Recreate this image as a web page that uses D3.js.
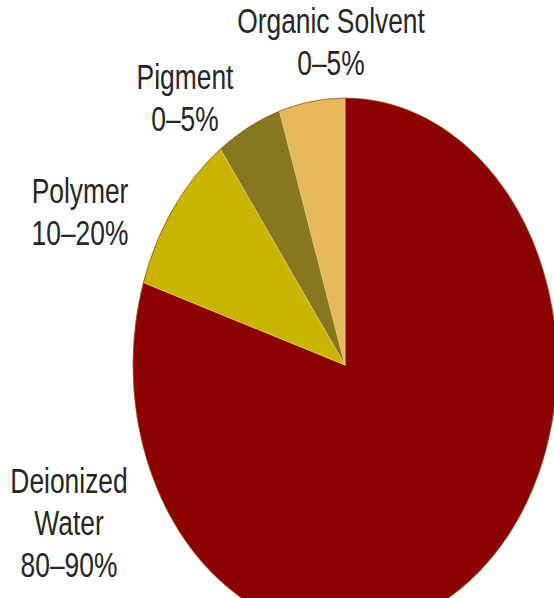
<!DOCTYPE html>
<html>
<head>
<meta charset="utf-8">
<script src="https://cdn.jsdelivr.net/npm/d3@7/dist/d3.min.js"></script>
<style>
  html, body { margin: 0; padding: 0; background: #ffffff; }
  svg { display: block; }
  .lbl { font-family: "Liberation Sans", Arial, sans-serif; fill: #262626; }
</style>
</head>
<body>
<svg id="chart" width="554" height="598"></svg>
<script>
// Composition of a water-based ink (share of total, %)
const categories = ["Deionized Water", "Polymer", "Pigment", "Organic Solvent"];
const values = [80, 10, 5, 5];
const rangeLabels = ["80–90%", "10–20%", "0–5%", "0–5%"];
// label lines for each category (name may wrap)
const nameLines = [["Deionized", "Water"], ["Polymer"], ["Pigment"], ["Organic Solvent"]];

const colors = {
  "Deionized Water": "#8c0202",
  "Polymer": "#c8b500",
  "Pigment": "#85781e",
  "Organic Solvent": "#e6b85c"
};

// layout
const W = 554, H = 598;
const cx = 345, cy = 365;
const R = 267;          // vertical radius
const xScale = 212 / R; // the pie is drawn as an ellipse
const fontSize = 34.5, lineH = 42;
const textSqueeze = 0.765; // condensed lettering
const labelAnchors = {
  "Deionized Water": [69, 493],
  "Polymer": [80, 203],
  "Pigment": [185, 89],
  "Organic Solvent": [331, 33]
};

const svg = d3.select("#chart");

const rows = categories.map((c, i) => ({ name: c, value: values[i], range: rangeLabels[i], lines: nameLines[i] }));

const pie = d3.pie().sort(null).value(d => d.value).startAngle(0).endAngle(2 * Math.PI);
const arc = d3.arc().innerRadius(0).outerRadius(R);

const g = svg.append("g").attr("transform", `translate(${cx},${cy}) scale(${xScale},1)`);

g.selectAll("path.slice")
  .data(pie(rows))
  .join("path")
  .attr("class", "slice")
  .attr("d", arc)
  .attr("fill", d => colors[d.data.name])
  .attr("stroke", "rgba(238,200,120,0.55)")
  .attr("stroke-width", 1.1)
  .attr("vector-effect", "non-scaling-stroke");

// darker rim around the pie
g.append("circle")
  .attr("r", R)
  .attr("fill", "none")
  .attr("stroke", "rgba(70,0,0,0.45)")
  .attr("stroke-width", 1)
  .attr("vector-effect", "non-scaling-stroke");

// category labels
const labels = svg.selectAll("g.lblg")
  .data(rows)
  .join("g")
  .attr("class", "lblg")
  .attr("transform", d => `translate(${labelAnchors[d.name][0]},${labelAnchors[d.name][1]}) scale(${textSqueeze},1)`);

labels.append("text")
  .attr("class", "lbl")
  .attr("text-anchor", "middle")
  .attr("font-size", fontSize)
  .selectAll("tspan")
  .data(d => d.lines.concat([d.range]))
  .join("tspan")
  .attr("x", 0)
  .attr("y", (l, i) => i * lineH)
  .text(l => l);
</script>
</body>
</html>
